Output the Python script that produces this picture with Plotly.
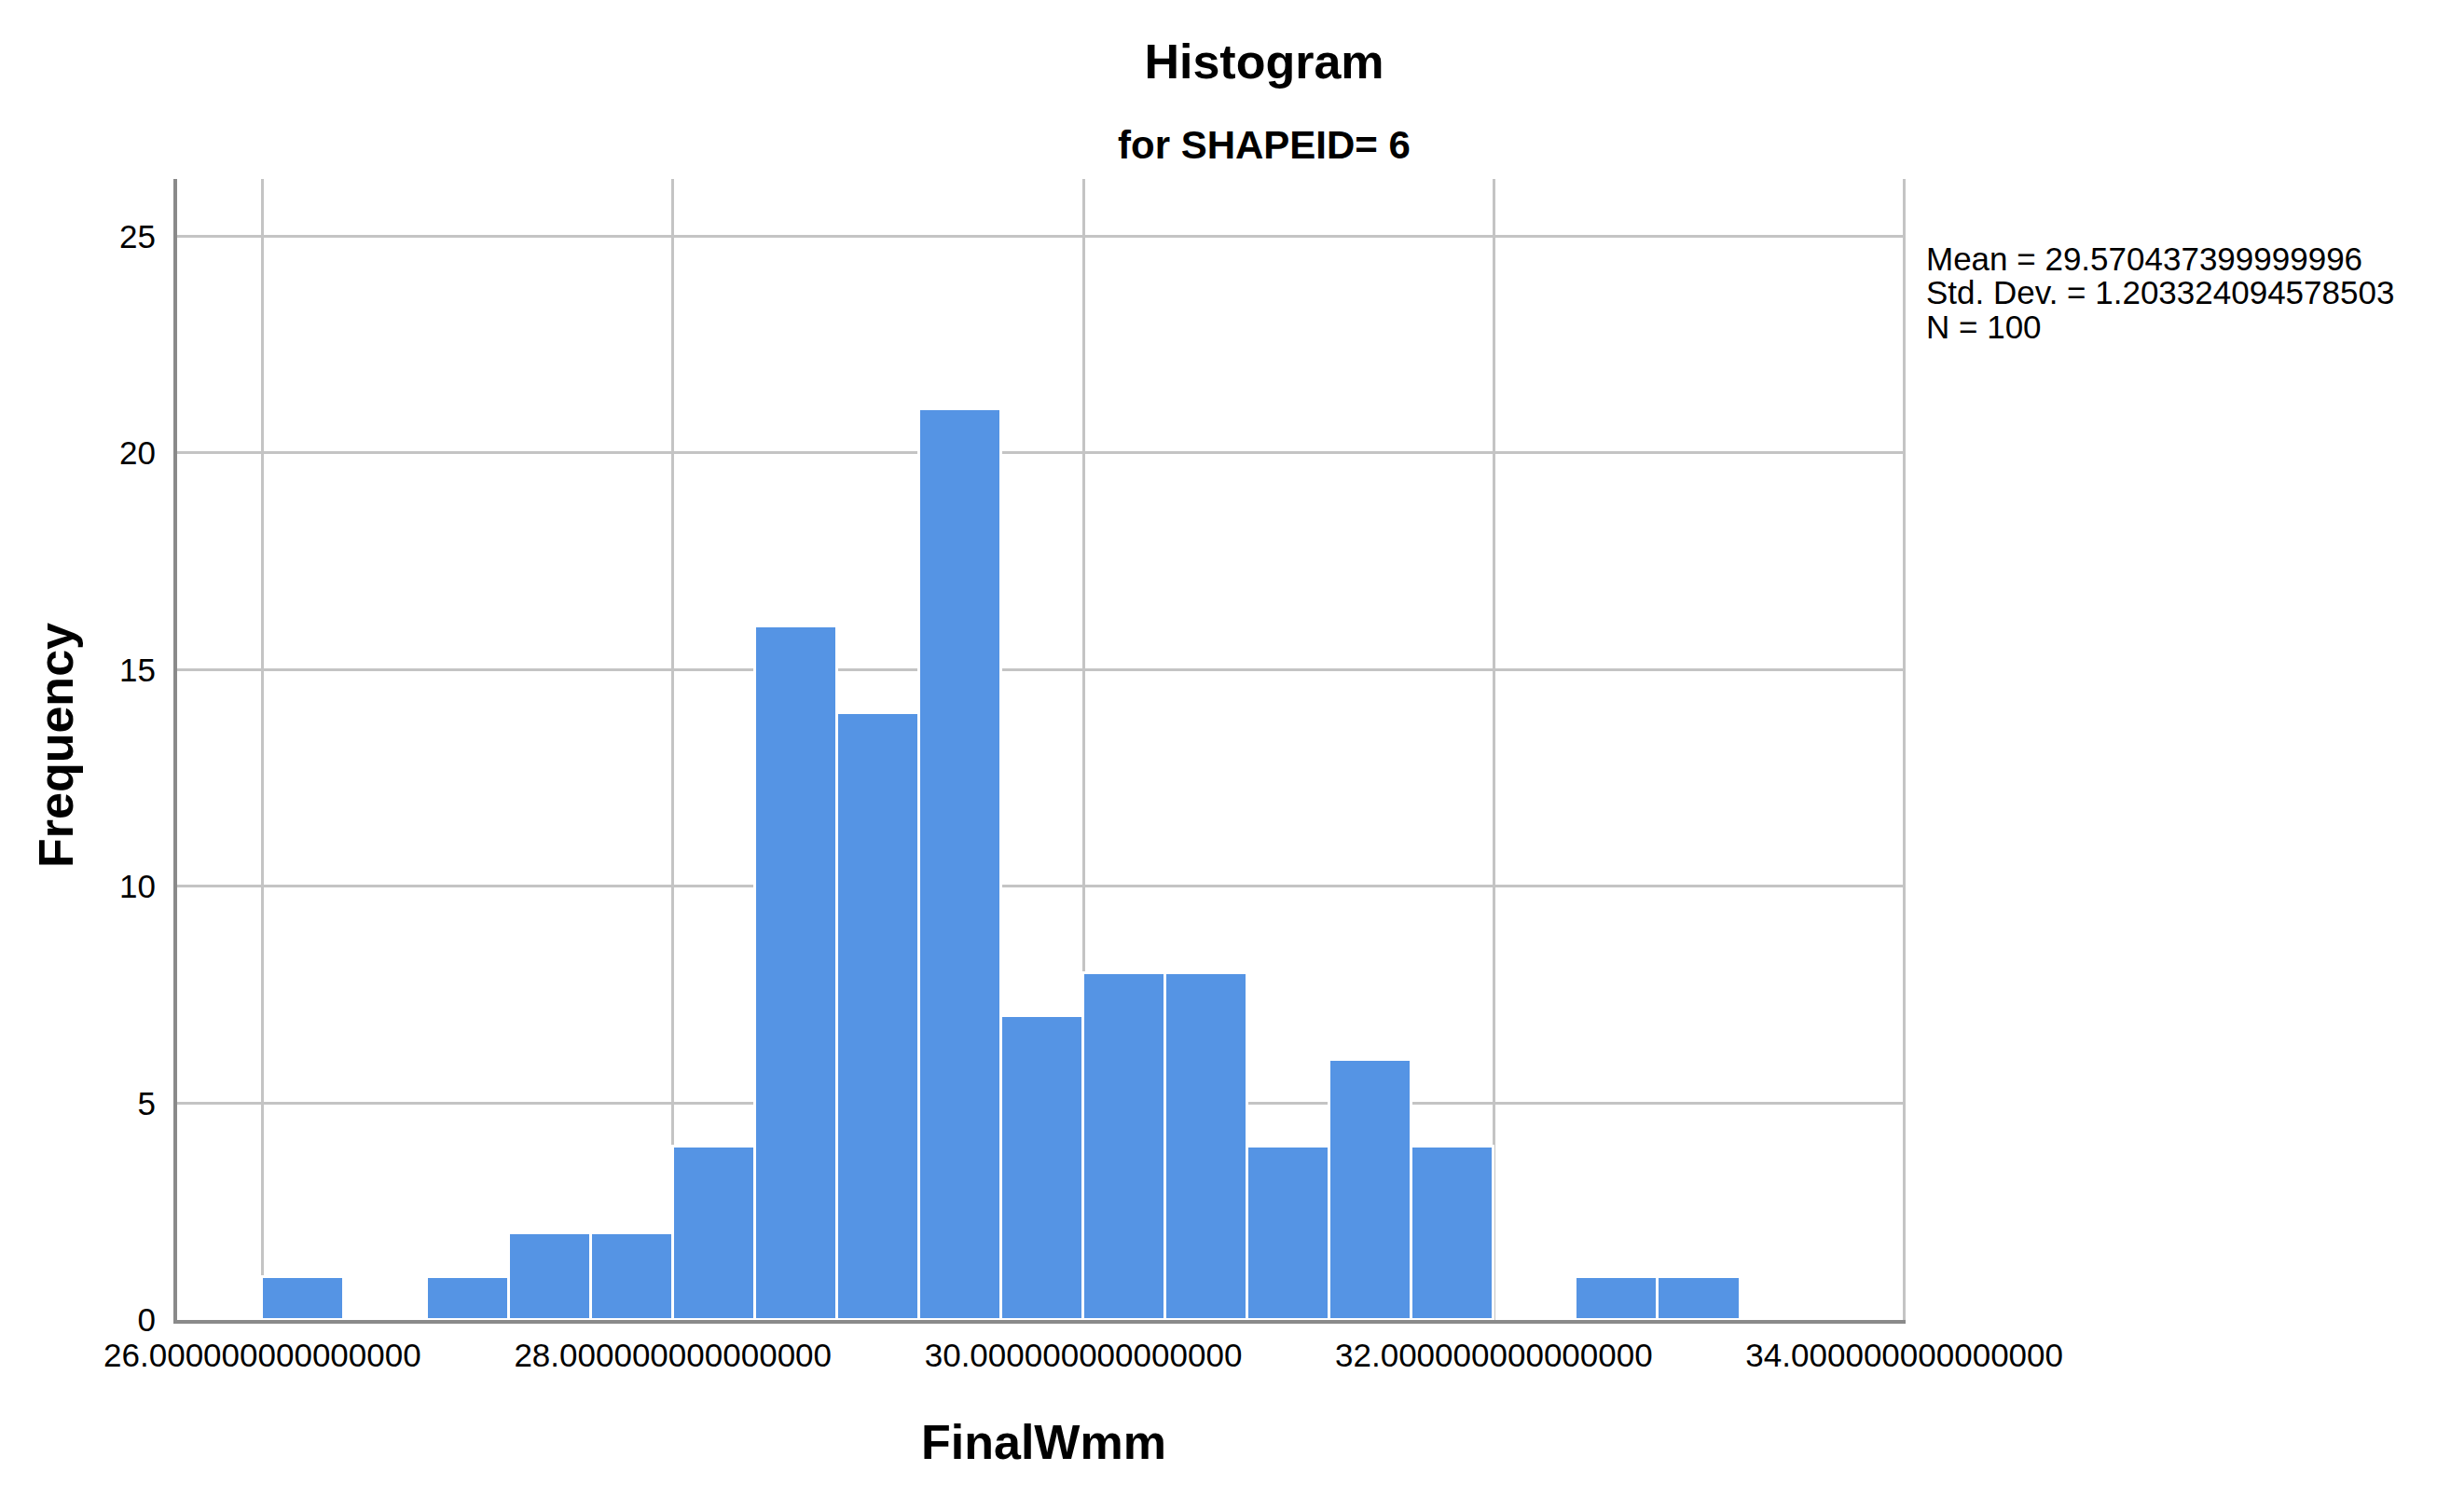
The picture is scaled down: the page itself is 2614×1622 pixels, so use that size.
import plotly.graph_objects as go

# ---- data ----
bin_starts = [26.0, 26.4, 26.8, 27.2, 27.6, 28.0, 28.4, 28.8, 29.2, 29.6,
              30.0, 30.4, 30.8, 31.2, 31.6, 32.0, 32.4, 32.8]
counts = [1, 0, 1, 2, 2, 4, 16, 14, 21, 7, 8, 8, 4, 6, 4, 0, 1, 1]
bin_width = 0.4

x_tickvals = [26, 28, 30, 32, 34]
x_ticktext = ["26.000000000000000", "28.000000000000000", "30.000000000000000",
              "32.000000000000000", "34.000000000000000"]
y_tickvals = [0, 5, 10, 15, 20, 25]
y_ticktext = ["0", "5", "10", "15", "20", "25"]

stats_lines = ["Mean = 29.570437399999996",
               "Std. Dev. = 1.203324094578503",
               "N = 100"]

title_text = "Histogram"
subtitle_text = "for SHAPEID= 6"
x_title = "FinalWmm"
y_title = "Frequency"

FONT = "Liberation Sans, Arial, sans-serif"

# keep only non-empty bins for drawing (empty bins are invisible)
xs = [s + bin_width / 2 for s, c in zip(bin_starts, counts) if c > 0]
ys = [c for c in counts if c > 0]

fig = go.Figure()
fig.add_trace(go.Bar(
    x=xs, y=ys, width=bin_width,
    marker=dict(color="#5594E4", line=dict(color="#FFFFFF", width=3)),
    hoverinfo="x+y",
))

OFF = 8  # page body margin
W, H = 2614, 1622
L, R, T, B = 190 - OFF, 2044 - OFF, 192 - OFF, 1416 - OFF

fig.update_layout(
    width=W, height=H,
    margin=dict(l=L, r=W - R, t=T, b=H - B, pad=0),
    paper_bgcolor="white", plot_bgcolor="white",
    showlegend=False,
    font=dict(family=FONT, size=35, color="black"),
    bargap=0,
    title=dict(text="<b>" + title_text + "</b>", x=(1356 - OFF) / W, xref="container",
               xanchor="center", y=1 - (66 - OFF) / H, yref="container", yanchor="middle",
               font=dict(family=FONT, size=52, color="black")),
)

fig.update_xaxes(
    range=[25.585, 34.006],
    tickvals=x_tickvals, ticktext=x_ticktext,
    showgrid=True, gridcolor="#C4C4C4", gridwidth=3,
    showline=True, linecolor="#8A8A8A", linewidth=4,
    ticks="outside", ticklen=4, tickcolor="rgba(0,0,0,0)",
    tickfont=dict(family=FONT, size=35, color="black"),
    zeroline=False, fixedrange=True,
)
fig.update_yaxes(
    range=[0, 26.32],
    tickvals=y_tickvals, ticktext=y_ticktext,
    showgrid=True, gridcolor="#C4C4C4", gridwidth=3,
    showline=True, linecolor="#8A8A8A", linewidth=4,
    ticks="outside", ticklen=12, tickcolor="rgba(0,0,0,0)",
    tickfont=dict(family=FONT, size=35, color="black"),
    zeroline=False, fixedrange=True,
)

pw, ph = R - L, B - T

def px_x(p):
    return (p - OFF - L) / pw

def px_y(p):
    return (B - (p - OFF)) / ph

annotations = []
# subtitle
annotations.append(dict(text="<b>" + subtitle_text + "</b>", xref="paper", yref="paper",
                        x=px_x(1356), y=px_y(155), xanchor="center", yanchor="middle",
                        showarrow=False, font=dict(family=FONT, size=42, color="black")))
# axis titles
annotations.append(dict(text="<b>" + x_title + "</b>", xref="paper", yref="paper",
                        x=px_x(1119), y=px_y(1547), xanchor="center", yanchor="middle",
                        showarrow=False, font=dict(family=FONT, size=52, color="black")))
annotations.append(dict(text="<b>" + y_title + "</b>", xref="paper", yref="paper",
                        x=px_x(60), y=px_y(800), xanchor="center", yanchor="middle",
                        textangle=-90, showarrow=False,
                        font=dict(family=FONT, size=52, color="black")))
# stats block
for i, line in enumerate(stats_lines):
    annotations.append(dict(text=line, xref="paper", yref="paper",
                            x=px_x(2064), y=px_y(277 + i * 36.5), xanchor="left",
                            yanchor="middle", showarrow=False, align="left",
                            font=dict(family=FONT, size=35, color="black")))
fig.update_layout(annotations=annotations)

fig.write_html("out.html")
